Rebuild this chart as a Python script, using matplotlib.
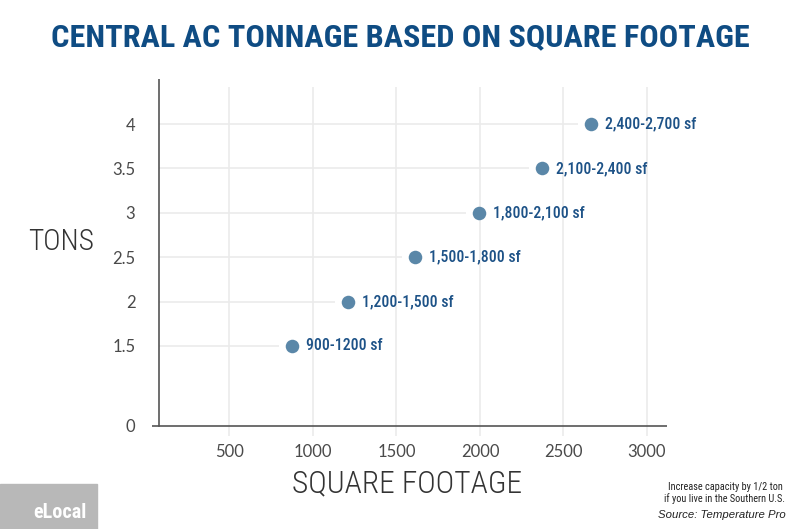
import os
import matplotlib
matplotlib.use("Agg")
import matplotlib.pyplot as plt
from matplotlib import font_manager
from matplotlib.font_manager import FontProperties
from matplotlib.patches import Rectangle
import numpy as np

# data
sqft = [874, 1210, 1611, 1994, 2371, 2665]
tons = [1.5, 2.0, 2.5, 3.0, 3.5, 4.0]
labels = ["900-1200 sf", "1,200-1,500 sf", "1,500-1,800 sf",
          "1,800-2,100 sf", "2,100-2,400 sf", "2,400-2,700 sf"]
xticks = [500, 1000, 1500, 2000, 2500, 3000]
yticks = [0, 1.5, 2, 2.5, 3, 3.5, 4]
ytick_labels = ["0", "1.5", "2", "2.5", "3", "3.5", "4"]

title_color = "#0f4c83"
dot_color = "#5a87a8"
label_color = "#1d5287"
grid_color = "#ebebeb"
axis_color = "#555555"
text_color = "#333333"

font_files = {os.path.basename(f.fname).lower(): f.fname
              for f in font_manager.fontManager.ttflist}


def pick(prefixes, fallback_weight="normal"):
    # look for a condensed face by file name, else plain DejaVu
    for p in prefixes:
        for base, path in sorted(font_files.items()):
            if base.startswith(p.lower()):
                return FontProperties(fname=path)
    return FontProperties(family="DejaVu Sans", weight=fallback_weight)


cond_bold = pick(["RobotoCondensed-Bold", "NotoSans-CondensedBold",
                  "DejaVuSansCondensed-Bold", "LiberationSansNarrow-Bold"], "bold")
cond_med = pick(["RobotoCondensed-Medium", "NotoSans-CondensedMedium",
                 "NotoSans-CondensedSemiBold", "DejaVuSansCondensed-Bold",
                 "LiberationSansNarrow-Bold"], "bold")
cond_light = pick(["RobotoCondensed-Light", "NotoSans-CondensedLight",
                   "RobotoCondensed-Regular", "NotoSans-Condensed.",
                   "DejaVuSansCondensed.", "LiberationSansNarrow-Regular"])
cond_reg = pick(["RobotoCondensed-Regular", "NotoSans-Condensed.",
                 "DejaVuSansCondensed.", "LiberationSansNarrow-Regular"])


# y axis is squashed below 1.5 (broken axis in the original)
def fwd(y):
    y = np.asarray(y, dtype=float)
    return np.where(y >= 1.5, y, 1.5 - (1.5 - y) * 0.6006)


def inv(y):
    y = np.asarray(y, dtype=float)
    return np.where(y >= 1.5, y, 1.5 - (1.5 - y) / 0.6006)


fig = plt.figure(figsize=(8, 5.29), dpi=100)
ax = fig.add_axes([152 / 800, 1 - 436 / 529, 515 / 800, 357 / 529])
ax.set_yscale("function", functions=(fwd, inv))
ax.set_xlim(36, 3120)
ax.set_ylim(-0.19, 4.507)
for s in ax.spines.values():
    s.set_visible(False)

x_axis = 78
# vertical grid, running a bit below the axis line
ax.vlines(xticks, -0.19, 4.417, color=grid_color, lw=1.2, zorder=0)
# horizontal guides stop short of each dot
ax.hlines(tons, x_axis, np.array(sqft) - 78, color=grid_color, lw=1.2, zorder=0)

ax.axhline(0, color=axis_color, lw=1.2, zorder=2)
ax.axvline(x_axis, ymin=(fwd(0) - fwd(-0.19)) / (fwd(4.507) - fwd(-0.19)), ymax=1,
           color=axis_color, lw=1.2, zorder=2)

ax.scatter(sqft, tons, s=95, color=dot_color, zorder=3, linewidths=0)
for x, y, t in zip(sqft, tons, labels):
    ax.annotate(t, (x, y), xytext=(10, 0), textcoords="offset points",
                va="center", ha="left", color=label_color,
                fontproperties=cond_med, fontsize=11.3)

ax.set_xticks(xticks)
ax.set_xticklabels([str(v) for v in xticks])
ax.set_yticks(yticks)
ax.set_yticklabels(ytick_labels)
ax.yaxis.set_minor_locator(matplotlib.ticker.NullLocator())
ax.tick_params(axis="both", length=0, labelcolor="#4a4a4a", labelsize=12)
ax.tick_params(axis="x", pad=6)
ax.tick_params(axis="y", pad=12)
for lab in ax.get_xticklabels() + ax.get_yticklabels():
    lab.set_family("Lato")
    lab.set_fontweight("normal")

title = fig.text(0.5, 1 - 37 / 529, "CENTRAL AC TONNAGE BASED ON SQUARE FOOTAGE",
                 ha="center", va="center", color=title_color,
                 fontproperties=cond_bold)
tons_lab = fig.text(61 / 800, 1 - 242 / 529, "TONS", ha="center", va="center",
                    color=text_color, fontproperties=cond_light)
sq_lab = fig.text(407 / 800, 1 - 484 / 529, "SQUARE FOOTAGE", ha="center",
                  va="center", color=text_color, fontproperties=cond_light)
note1 = fig.text(725 / 800, 1 - 487 / 529, "Increase capacity by 1/2 ton",
                 ha="center", va="center", color="#222222", fontproperties=cond_reg)
note2 = fig.text(724 / 800, 1 - 499 / 529, "if you live in the Southern U.S.",
                 ha="center", va="center", color="#222222", fontproperties=cond_reg)
fig.text(786 / 800, 1 - 515 / 529, "Source: Temperature Pro", ha="right",
         va="center", fontsize=8.2, style="italic", color="#222222",
         family="Liberation Sans")

# eLocal badge
fig.patches.append(Rectangle((0, 0), 97 / 800, 45 / 529, transform=fig.transFigure,
                             color="#b8b8b8", zorder=0))
fig.text(33 / 800, 1 - 513 / 529, "eLocal", ha="left", va="center",
         color="white", fontproperties=cond_bold, fontsize=14.5)

# size the texts so their widths match the reference, capped by height
fits = [(title, 696, 27), (tons_lab, 66, 24), (sq_lab, 230, 27),
        (note1, 114, 8), (note2, 121, 8)]
for t, width_px, max_size in fits:
    t.set_fontsize(max_size)
fig.canvas.draw()
renderer = fig.canvas.get_renderer()
for t, width_px, max_size in fits:
    w = t.get_window_extent(renderer).width
    t.set_fontsize(min(max_size * 1.4, max_size * width_px / w))

fig.savefig("out.png", dpi=100)
